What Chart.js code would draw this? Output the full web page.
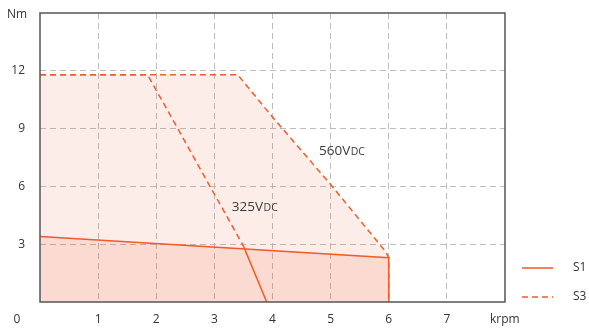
<!DOCTYPE html>
<html>
<head>
<meta charset="utf-8">
<script src="https://cdn.jsdelivr.net/npm/chart.js@4/dist/chart.umd.min.js"></script>
<style>
  html, body { margin: 0; padding: 0; background: #fff; }
  #wrap { width: 589px; height: 334px; position: relative; }
</style>
</head>
<body>
<div id="wrap"><canvas id="c" width="589" height="334"></canvas></div>
<script>
// ---- data (speed in krpm, torque in Nm) ----
const xTicks = [0, 1, 2, 3, 4, 5, 6, 7];
const yTicks = [3, 6, 9, 12];

const s3v560Speed  = [0, 3.4, 4.0, 5.0, 5.95, 6.0, 6.0];
const s3v560Torque = [11.8, 11.8, 9.6, 6.1, 2.6, 2.3, 0];

const s3v325Speed  = [0, 1.85, 3.5];
const s3v325Torque = [11.8, 11.8, 2.9];

const s1v560Speed  = [0, 6.0, 6.0];
const s1v560Torque = [3.4, 2.3, 0];

const s1v325Speed  = [3.5, 3.9];
const s1v325Torque = [2.9, 0];

const legendLabels = ['S1', 'S3'];
const voltageLabels = ['560V', '325V'];
const voltageLabelPos = [{x: 4.8, y: 7.9}, {x: 3.3, y: 5.0}];

const ORANGE = '#f15a29';
const pts = (xs, ys) => xs.map((x, i) => ({x, y: ys[i]}));

const annotPlugin = {
  id: 'annot',
  afterDraw(chart) {
    const ctx = chart.ctx;
    const a = chart.chartArea;
    const xs = chart.scales.x, ys = chart.scales.y;
    ctx.save();
    // frame
    ctx.strokeStyle = '#555';
    ctx.lineWidth = 1.5;
    ctx.setLineDash([]);
    ctx.strokeRect(a.left, a.top, a.right - a.left, a.bottom - a.top);

    ctx.fillStyle = '#333';
    ctx.font = '12px "Open Sans", sans-serif';
    ctx.textBaseline = 'middle';
    // x tick labels
    ctx.textAlign = 'center';
    xTicks.forEach(v => {
      if (v === 0) return;
      ctx.fillText(String(v), xs.getPixelForValue(v), a.bottom + 18);
    });
    ctx.fillText('0', 17, a.bottom + 18);
    ctx.textAlign = 'left';
    ctx.fillText('krpm', a.right - 15, a.bottom + 18);
    // y tick labels
    ctx.textAlign = 'right';
    yTicks.forEach(v => {
      ctx.fillText(String(v), 25, ys.getPixelForValue(v));
    });
    ctx.textAlign = 'center';
    ctx.fillText('Nm', 17, 15);

    // voltage labels
    ctx.textBaseline = 'alphabetic';
    voltageLabels.forEach((t, i) => {
      const px = xs.getPixelForValue(voltageLabelPos[i].x);
      const py = ys.getPixelForValue(voltageLabelPos[i].y) + 5.5;
      ctx.textAlign = 'left';
      ctx.fillStyle = '#3a3a3a';
      ctx.font = '13.5px "Open Sans", sans-serif';
      const w1 = ctx.measureText(t).width;
      ctx.fillText(t, px, py);
      ctx.font = '10.5px "Open Sans", sans-serif';
      ctx.fillText('DC', px + w1 + 0.5, py);
    });

    // legend
    ctx.strokeStyle = ORANGE;
    ctx.lineWidth = 1.5;
    ctx.setLineDash([]);
    ctx.beginPath(); ctx.moveTo(522, 268); ctx.lineTo(553, 268); ctx.stroke();
    ctx.setLineDash([6, 4]);
    ctx.beginPath(); ctx.moveTo(522, 297); ctx.lineTo(553, 297); ctx.stroke();
    ctx.setLineDash([]);
    ctx.fillStyle = '#333';
    ctx.font = '12px "Open Sans", sans-serif';
    ctx.textAlign = 'left';
    ctx.textBaseline = 'middle';
    ctx.fillText(legendLabels[0], 573, 268);
    ctx.fillText(legendLabels[1], 573, 297);
    ctx.restore();
  }
};

new Chart(document.getElementById('c'), {
  type: 'scatter',
  data: {
    datasets: [
      { data: pts(s1v325Speed, s1v325Torque), showLine: true, borderColor: ORANGE, borderWidth: 1.5, pointRadius: 0, fill: false },
      { data: pts(s3v325Speed, s3v325Torque), showLine: true, borderColor: ORANGE, borderWidth: 1.5, borderDash: [6, 4], pointRadius: 0, fill: false },
      { data: pts(s1v560Speed, s1v560Torque), showLine: true, borderColor: ORANGE, borderWidth: 1.5, pointRadius: 0, fill: 'origin', backgroundColor: 'rgba(241,90,41,0.12)' },
      { data: pts(s3v560Speed, s3v560Torque), showLine: true, borderColor: ORANGE, borderWidth: 1.5, borderDash: [6, 4], pointRadius: 0, fill: 'origin', backgroundColor: 'rgba(241,90,41,0.11)' }
    ]
  },
  options: {
    responsive: false,
    animation: false,
    layout: { padding: { left: 40, top: 13, right: 84, bottom: 32 } },
    plugins: {
      legend: { display: false },
      tooltip: { enabled: false },
      filler: { drawTime: 'beforeDatasetsDraw' }
    },
    scales: {
      x: {
        type: 'linear', min: 0, max: 8,
        ticks: { display: false, stepSize: 1 },
        border: { display: false, dash: [6, 4] },
        grid: {
          drawTicks: false,
          color: c => (c.tick.value === 0 || c.tick.value === 8) ? 'rgba(0,0,0,0)' : '#bdbdbd'
        }
      },
      y: {
        type: 'linear', min: 0, max: 15,
        ticks: { display: false, stepSize: 3 },
        border: { display: false, dash: [6, 4] },
        grid: {
          drawTicks: false,
          color: c => (c.tick.value === 0 || c.tick.value === 15) ? 'rgba(0,0,0,0)' : '#bdbdbd'
        }
      }
    }
  },
  plugins: [annotPlugin]
});
</script>
</body>
</html>
